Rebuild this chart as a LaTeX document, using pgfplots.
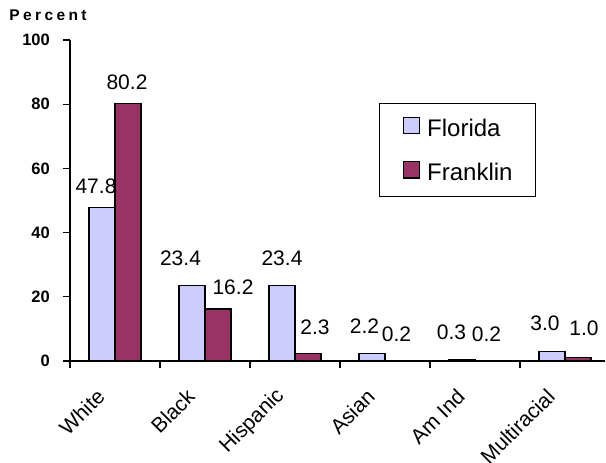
\documentclass[border=0pt]{standalone}
\usepackage{pgfplots}
\pgfplotsset{compat=1.18}
\usepackage{pgfplotstable}
\usepackage{fontspec}
\setmainfont{Liberation Sans}
\definecolor{florida}{HTML}{CCCCFF}
\definecolor{franklin}{HTML}{993366}

% x = category, val = percent, dx/gap = label offsets (pt)
\pgfplotstableread{
x val dx gap
0 47.8 -6 13
1 23.4 -11.5 20
2 23.4 0 20
3 2.2 -7.5 20
4 0.3 -10.5 20
5 3.0 -7 20
}\florida
\pgfplotstableread{
x val dx gap
0 80.2 -1 13
1 16.2 15 14
2 2.3 7 18
3 0.2 -1.5 18
4 0.2 -1.5 18
5 1.0 6 22
}\franklin

\begin{document}
\begin{tikzpicture}
\begin{axis}[
    width=535.5pt, height=321pt, scale only axis,
    xmin=-0.5, xmax=5.45, ymin=0, ymax=100,
    axis lines=left,
    axis line style={-, black, line width=1.3pt},
    tick style={black, line width=1.3pt},
    tick align=outside,
    major tick length=7pt,
    ybar=0pt, bar width=26pt,
    /pgf/number format/assume math mode=true,
    ytick={0,20,...,100},
    yticklabel style={font=\bfseries\fontsize{16.5}{16.5}\selectfont, inner sep=0pt, xshift=-13pt},
    xtick={-0.5,0.5,...,4.5},
    xticklabels={},
    extra x ticks={0,1,2,3,4,5},
    extra x tick labels={White,Black,Hispanic,Asian,Am Ind,Multiracial},
    extra x tick style={major tick length=0pt,
        xticklabel style={xshift=-14pt, yshift=-32pt, rotate=45, anchor=east, inner sep=0pt,
            font=\fontsize{21}{21}\selectfont}},
    nodes near coords={\pgfmathprintnumber[fixed,fixed zerofill,precision=1]{\pgfplotspointmeta}},
    nodes near coords style={font=\fontsize{21}{21}\selectfont, anchor=south, inner sep=0pt},
    legend style={at={(rel axis cs:0.577,0.804)}, anchor=north west,
        draw=black, line width=1.3pt, inner xsep=23pt, inner ysep=13.3pt,
        font=\fontsize{24}{24}\selectfont, row sep=21.5pt, column sep=7pt,
        nodes={inner sep=0pt, text height=17pt, text depth=3pt}},
    legend cell align=left,
    legend image code/.code={\draw[#1, draw=black, line width=1.1pt] (0pt,-4.5pt) rectangle (16.5pt,12pt);},
]
\addplot[fill=florida, draw=black, line width=1.1pt,
    visualization depends on={\thisrow{dx}\as\dx},
    visualization depends on={\thisrow{gap}\as\gap},
    every node near coord/.append style={xshift=\dx*1pt, yshift=\gap*1pt}]
    table[x=x, y=val] {\florida};
\addplot[fill=franklin, draw=black, line width=1.1pt,
    visualization depends on={\thisrow{dx}\as\dx},
    visualization depends on={\thisrow{gap}\as\gap},
    every node near coord/.append style={xshift=\dx*1pt, yshift=\gap*1pt}]
    table[x=x, y=val] {\franklin};
\legend{Florida,Franklin}
\coordinate (O) at (rel axis cs:0,0);
\end{axis}
\node[font=\bfseries\fontsize{15.5}{15.5}\selectfont\addfontfeatures{LetterSpace=22}]
    at ([xshift=-22pt,yshift=346pt]O) {Percent};
\pgfresetboundingbox
\path[use as bounding box] ([xshift=-70pt,yshift=-102pt]O) rectangle ++(606pt,463pt);
\end{tikzpicture}
\end{document}
